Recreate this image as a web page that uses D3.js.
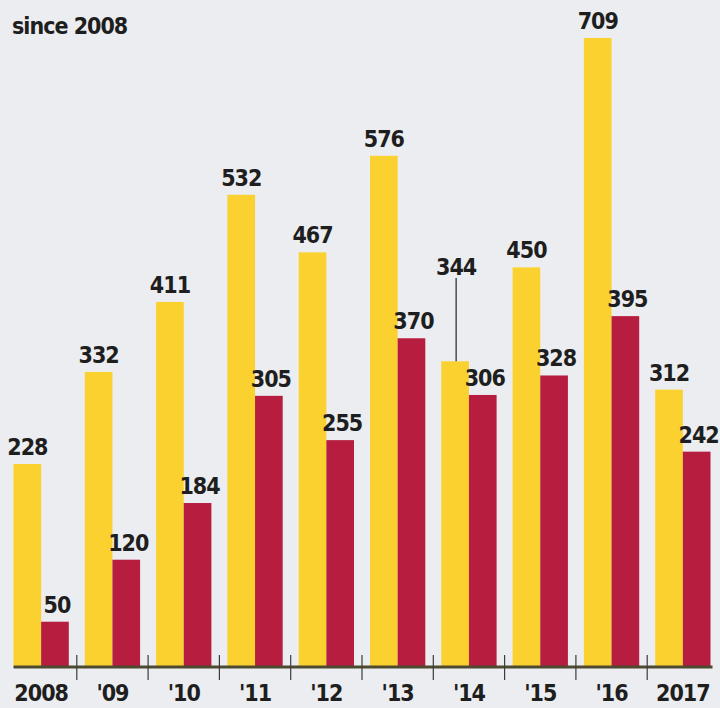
<!DOCTYPE html>
<html>
<head>
<meta charset="utf-8">
<script src="https://cdn.jsdelivr.net/npm/d3@7"></script>
<style>
  body { margin: 0; background: #ecedf0; }
  text { font-family: "DejaVu Sans Condensed", "DejaVu Sans", sans-serif; font-stretch: condensed; fill: #1e1e1e; }
</style>
</head>
<body>
<div id="chart"></div>
<script>
var svgWidth = 720;
var svgHeight = 708;

// data
var years = ["2008", "'09", "'10", "'11", "'12", "'13", "'14", "'15", "'16", "2017"];
var yellowValues = [228, 332, 411, 532, 467, 576, 344, 450, 709, 312];
var redValues = [50, 120, 184, 305, 255, 370, 306, 328, 395, 242];

var yellow = "#fbd12f";
var red = "#b61d3f";

var svg = d3.select("#chart")
    .append("svg")
    .attr("width", svgWidth)
    .attr("height", svgHeight);

// title (top line is cut off in the source)
svg.append("text")
    .attr("x", 12)
    .attr("y", 34)
    .attr("font-size", "23px")
    .attr("font-weight", "bold")
    .attr("letter-spacing", "-1px")
    .text("since 2008");

var baseline = 666;

var xScale = d3.scaleBand()
    .domain(years)
    .range([5.5, 718.5])
    .paddingInner(16 / 71.3)
    .paddingOuter(8 / 71.3);

var yScale = d3.scaleLinear()
    .domain([0, 709])
    .range([baseline, 38]);

var half = xScale.bandwidth() / 2;

var groups = svg.append("g")
    .selectAll("g")
    .data(years)
    .enter()
    .append("g")
    .attr("transform", d => `translate(${xScale(d)}, 0)`);

// yellow bars
groups.append("rect")
    .attr("x", 0)
    .attr("width", half)
    .attr("y", (d, i) => yScale(yellowValues[i]))
    .attr("height", (d, i) => baseline - yScale(yellowValues[i]))
    .attr("fill", yellow);

// red bars
groups.append("rect")
    .attr("x", half)
    .attr("width", half)
    .attr("y", (d, i) => yScale(redValues[i]))
    .attr("height", (d, i) => baseline - yScale(redValues[i]))
    .attr("fill", red);

// value labels
var labelSize = "23px";
groups.append("text")
    .attr("x", (d, i) => half / 2 + (years[i] === "'14" ? 1 : 0))
    .attr("y", (d, i) => years[i] === "'14" ? 275 : yScale(yellowValues[i]) - 9)
    .attr("text-anchor", "middle")
    .attr("font-size", labelSize)
    .attr("font-weight", "bold")
    .attr("letter-spacing", "-1px")
    .text((d, i) => yellowValues[i]);

groups.append("text")
    .attr("x", half * 1.5 + 2)
    .attr("y", (d, i) => yScale(redValues[i]) - 9)
    .attr("text-anchor", "middle")
    .attr("font-size", labelSize)
    .attr("font-weight", "bold")
    .attr("letter-spacing", "-1px")
    .text((d, i) => redValues[i]);

// leader line for '14
var i14 = years.indexOf("'14");
svg.append("line")
    .attr("x1", xScale("'14") + half / 2 + 1)
    .attr("x2", xScale("'14") + half / 2 + 1)
    .attr("y1", 278)
    .attr("y2", yScale(yellowValues[i14]))
    .attr("stroke", "#222")
    .attr("stroke-width", 1.2);

// baseline axis
svg.append("line")
    .attr("x1", xScale(years[0]))
    .attr("x2", xScale(years[years.length - 1]) + xScale.bandwidth() + 2)
    .attr("y1", baseline + 1)
    .attr("y2", baseline + 1)
    .attr("stroke", "#4d4a30")
    .attr("stroke-width", 3);

// separators between years
var step = xScale.step();
svg.append("g")
    .selectAll("line")
    .data(years.slice(1))
    .enter()
    .append("line")
    .attr("x1", d => xScale(d) - (step - xScale.bandwidth()) / 2)
    .attr("x2", d => xScale(d) - (step - xScale.bandwidth()) / 2)
    .attr("y1", baseline - 11)
    .attr("y2", baseline + 14)
    .attr("stroke", "#3c3c3c")
    .attr("stroke-width", 1.2);

// year labels
groups.append("text")
    .attr("x", half)
    .attr("y", 701)
    .attr("text-anchor", "middle")
    .attr("font-size", "23px")
    .attr("font-weight", "bold")
    .attr("letter-spacing", "-1px")
    .text(d => d);
</script>
</body>
</html>
